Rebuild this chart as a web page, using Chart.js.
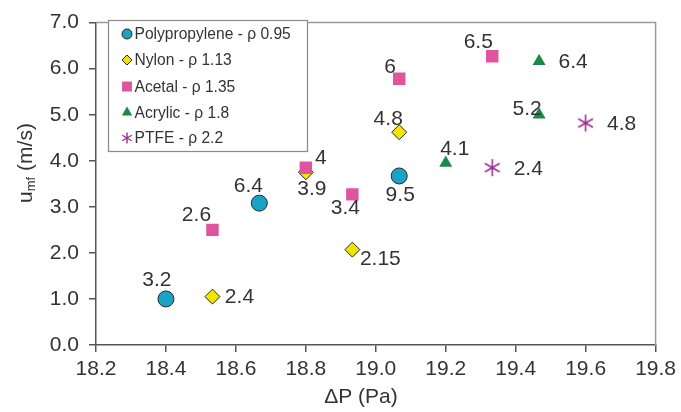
<!DOCTYPE html>
<html><head><meta charset="utf-8">
<script src="https://cdn.jsdelivr.net/npm/chart.js@4/dist/chart.umd.min.js"></script>
<style>html,body{margin:0;padding:0;background:#fff}</style>
</head><body>
<canvas id="c" width="681" height="412" style="width:681px;height:412px;display:block"></canvas>
<script>
// ---- data ----
const seriesNames = ['Polypropylene - ρ 0.95', 'Nylon - ρ 1.13', 'Acetal - ρ 1.35', 'Acrylic - ρ 1.8', 'PTFE - ρ 2.2'];
const ppX = [18.40, 18.667, 19.067];
const ppY = [1.00, 3.08, 3.67];
const ppLabels = ['3.2', '6.4', '9.5'];
const nyX = [18.533, 18.80, 18.933, 19.067];
const nyY = [1.05, 3.75, 2.07, 4.62];
const nyLabels = ['2.4', '3.9', '2.15', '4.8'];
const acX = [18.533, 18.80, 18.933, 19.067, 19.333];
const acY = [2.50, 3.85, 3.27, 5.78, 6.27];
const acLabels = ['2.6', '4', '3.4', '6', '6.5'];
const arX = [19.20, 19.467, 19.467];
const arY = [3.95, 5.00, 6.16];
const arLabels = ['4.1', '5.2', '6.4'];
const ptX = [19.333, 19.60];
const ptY = [3.85, 4.82];
const ptLabels = ['2.4', '4.8'];
const xTicks = [18.2, 18.4, 18.6, 18.8, 19.0, 19.2, 19.4, 19.6, 19.8];
const yTicks = [0, 1, 2, 3, 4, 5, 6, 7];
const xTitle = 'ΔP (Pa)';

// ---- label placement (pixel offsets from marker centre) ----
const ppOff = [[-9,-20],[-11,-18],[1,18]];
const nyOff = [[27,0],[6,16],[28,9],[-11,-14]];
const acOff = [[-16,-16],[15,-10],[-7,13],[-9,-13],[-14,-15]];
const arOff = [[9,-15],[-12,-7],[34,0]];
const ptOff = [[36,1],[36,0]];

const FONT = '"Liberation Sans", Arial, Helvetica, sans-serif';
const TXT = '#333333';

function asteriskPath(ctx, x, y, r) {
  ctx.beginPath();
  ctx.moveTo(x, y - r); ctx.lineTo(x, y + r);
  const a = Math.PI / 6;
  ctx.moveTo(x - r * Math.cos(a), y - r * Math.sin(a)); ctx.lineTo(x + r * Math.cos(a), y + r * Math.sin(a));
  ctx.moveTo(x - r * Math.cos(a), y + r * Math.sin(a)); ctx.lineTo(x + r * Math.cos(a), y - r * Math.sin(a));
}
function makeAsterisk(size, color, lw) {
  const cv = document.createElement('canvas');
  cv.width = size; cv.height = size;
  const c = cv.getContext('2d');
  c.strokeStyle = color; c.lineWidth = lw;
  asteriskPath(c, size / 2, size / 2, size / 2 - 1);
  c.stroke();
  return cv;
}

const colPP = '#1aa3c6', colNY = '#f3e400', colAC = '#e0549e', colAR = '#1b8a47', colPT = '#9d2f90';
const ptfeImg = makeAsterisk(19, colPT, 1.6);

function pts(xs, ys) { return xs.map((x, i) => ({x: x, y: ys[i]})); }

const datasets = [
  {label: seriesNames[0], data: pts(ppX, ppY), pointStyle: 'circle', pointRadius: 8, backgroundColor: colPP, borderColor: '#2a2a2a', borderWidth: 1, lbl: ppLabels, off: ppOff, order: 1},
  {label: seriesNames[1], data: pts(nyX, nyY), pointStyle: 'rectRot', pointRadius: 7.5, backgroundColor: colNY, borderColor: '#2a2a2a', borderWidth: 1, lbl: nyLabels, off: nyOff, order: 2},
  {label: seriesNames[2], data: pts(acX, acY), pointStyle: 'rect', pointRadius: 8.8, backgroundColor: colAC, borderColor: colAC, borderWidth: 0, lbl: acLabels, off: acOff, order: 0},
  {label: seriesNames[3], data: pts(arX, arY), pointStyle: 'triangle', pointRadius: 7.5, backgroundColor: colAR, borderColor: colAR, borderWidth: 0, lbl: arLabels, off: arOff, order: 1},
  {label: seriesNames[4], data: pts(ptX, ptY), pointStyle: ptfeImg, pointRadius: 9, backgroundColor: colPT, borderColor: colPT, borderWidth: 0, lbl: ptLabels, off: ptOff, order: 1}
];
datasets.forEach(d => { d.pointHoverRadius = d.pointRadius; d.showLine = false; });

const framePlugin = {
  id: 'frame',
  beforeDatasetsDraw(chart) {
    const {ctx, chartArea: a} = chart;
    ctx.save();
    ctx.strokeStyle = '#9a9a9a'; ctx.lineWidth = 1.5;
    ctx.beginPath();
    ctx.moveTo(a.left, a.top); ctx.lineTo(a.right, a.top); ctx.lineTo(a.right, a.bottom);
    ctx.stroke();
    ctx.restore();
  }
};

const labelPlugin = {
  id: 'pointLabels',
  afterDatasetsDraw(chart) {
    const ctx = chart.ctx;
    ctx.save();
    ctx.font = '21px ' + FONT; ctx.fillStyle = TXT;
    ctx.textAlign = 'center'; ctx.textBaseline = 'middle';
    chart.data.datasets.forEach((ds, di) => {
      const meta = chart.getDatasetMeta(di);
      meta.data.forEach((el, i) => {
        const o = ds.off[i];
        ctx.fillText(ds.lbl[i], el.x + o[0], el.y + o[1] + 1);
      });
    });
    ctx.restore();
  }
};

const legendPlugin = {
  id: 'boxLegend',
  afterDraw(chart) {
    const ctx = chart.ctx;
    const bx = 108.5, by = 20.5, bw = 199, bh = 131;
    ctx.save();
    ctx.fillStyle = '#fff'; ctx.fillRect(bx, by, bw, bh);
    ctx.strokeStyle = '#8a8a8a'; ctx.lineWidth = 1.2; ctx.strokeRect(bx, by, bw, bh);
    const rowY = [34, 60, 86.5, 112.5, 138];
    const radii = [5, 5, 7, 6, 5.5];
    ctx.font = '15.6px ' + FONT; ctx.textBaseline = 'middle'; ctx.textAlign = 'left';
    chart.data.datasets.forEach((ds, i) => {
      const mx = 127, my = rowY[i];
      if (i === 4) {
        ctx.strokeStyle = ds.borderColor; ctx.lineWidth = 1.4;
        asteriskPath(ctx, mx, my, 5.5); ctx.stroke();
      } else {
        ctx.fillStyle = ds.backgroundColor; ctx.strokeStyle = ds.borderColor;
        ctx.lineWidth = ds.borderWidth;
        Chart.helpers.drawPoint(ctx, {pointStyle: ds.pointStyle, radius: radii[i], rotation: 0, borderWidth: ds.borderWidth}, mx, my);
      }
      ctx.fillStyle = TXT;
      ctx.fillText(ds.label, 134.5, my + 1);
    });
    ctx.restore();
  }
};

const titlePlugin = {
  id: 'axisTitles',
  afterDraw(chart) {
    const ctx = chart.ctx;
    ctx.save();
    ctx.fillStyle = TXT; ctx.textBaseline = 'middle';
    ctx.font = '21px ' + FONT; ctx.textAlign = 'center';
    ctx.fillText(xTitle, 361, 397);
    ctx.translate(26, 163);
    ctx.rotate(-Math.PI / 2);
    ctx.textAlign = 'left';
    const big = '21px ' + FONT, small = '13px ' + FONT;
    ctx.font = big; const w1 = ctx.measureText('u').width;
    ctx.font = small; const w2 = ctx.measureText('mf').width;
    ctx.font = big; const w3 = ctx.measureText(' (m/s)').width;
    let x = -(w1 + w2 + w3) / 2;
    ctx.font = big; ctx.fillText('u', x, 0); x += w1;
    ctx.font = small; ctx.fillText('mf', x, 5); x += w2;
    ctx.font = big; ctx.fillText(' (m/s)', x, 0);
    ctx.restore();
  }
};

new Chart(document.getElementById('c'), {
  type: 'scatter',
  data: {datasets: datasets},
  options: {
    responsive: false, animation: false, devicePixelRatio: 1,
    layout: {padding: {top: 20, right: 23, left: 0, bottom: 0}},
    plugins: {legend: {display: false}, tooltip: {enabled: false}},
    scales: {
      x: {
        type: 'linear', min: xTicks[0], max: xTicks[xTicks.length - 1],
        afterBuildTicks(s) { s.ticks = xTicks.map(v => ({value: v})); },
        afterFit(s) { s.height = 67; },
        ticks: {callback: v => Number(v).toFixed(1), font: {size: 21, family: FONT}, color: TXT, padding: 5, maxRotation: 0, autoSkip: false},
        grid: {display: true, drawOnChartArea: false, drawTicks: true, tickLength: 7, color: '#555', lineWidth: 1.5},
        border: {display: true, color: '#555', width: 1.5}
      },
      y: {
        type: 'linear', min: yTicks[0], max: yTicks[yTicks.length - 1],
        afterBuildTicks(s) { s.ticks = yTicks.map(v => ({value: v})); },
        afterFit(s) { s.width = 96; },
        ticks: {callback: v => Number(v).toFixed(1), font: {size: 21, family: FONT}, color: TXT, padding: 10, autoSkip: false},
        grid: {display: true, drawOnChartArea: false, drawTicks: true, tickLength: 7, color: '#555', lineWidth: 1.5},
        border: {display: true, color: '#555', width: 1.5}
      }
    }
  },
  plugins: [framePlugin, labelPlugin, legendPlugin, titlePlugin]
});
</script>
</body></html>
